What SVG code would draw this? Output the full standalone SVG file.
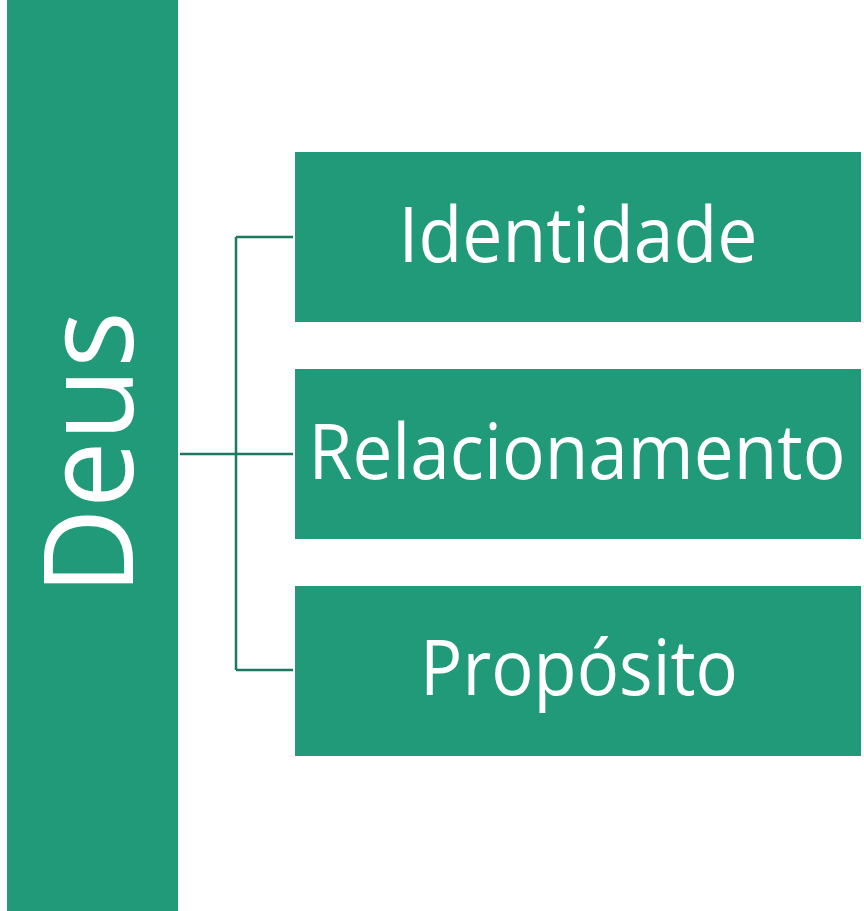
<svg xmlns="http://www.w3.org/2000/svg" width="864" height="911" viewBox="0 0 864 911">
<style>
.box{fill:#209a78}
.t{fill:#fff;font-family:"Open Sans","Liberation Sans",sans-serif;text-anchor:middle}
.c{stroke:#1b7a5e;stroke-width:2.5;fill:none}
</style>
<rect width="864" height="911" fill="#fff"/>
<g id="deus">
<rect class="box" x="7" y="0" width="171" height="911"/>
<text class="t" transform="translate(133,453) rotate(-90)" font-size="124" textLength="284" lengthAdjust="spacingAndGlyphs">Deus</text>
</g>
<g id="connectors">
<path class="c" d="M180,454 H293 M236,237 V670 M236,237 H293 M236,670 H293"/>
</g>
<g id="identidade">
<rect class="box" x="295" y="152" width="566" height="170"/>
<text class="t" x="578" y="262" font-size="77" textLength="359" lengthAdjust="spacingAndGlyphs">Identidade</text>
</g>
<g id="relacionamento">
<rect class="box" x="295" y="369" width="566" height="170"/>
<text class="t" x="577" y="479" font-size="77" textLength="537" lengthAdjust="spacingAndGlyphs">Relacionamento</text>
</g>
<g id="proposito">
<rect class="box" x="295" y="586" width="566" height="170"/>
<text class="t" x="579" y="695" font-size="77" textLength="318" lengthAdjust="spacingAndGlyphs">Propósito</text>
</g>
</svg>
